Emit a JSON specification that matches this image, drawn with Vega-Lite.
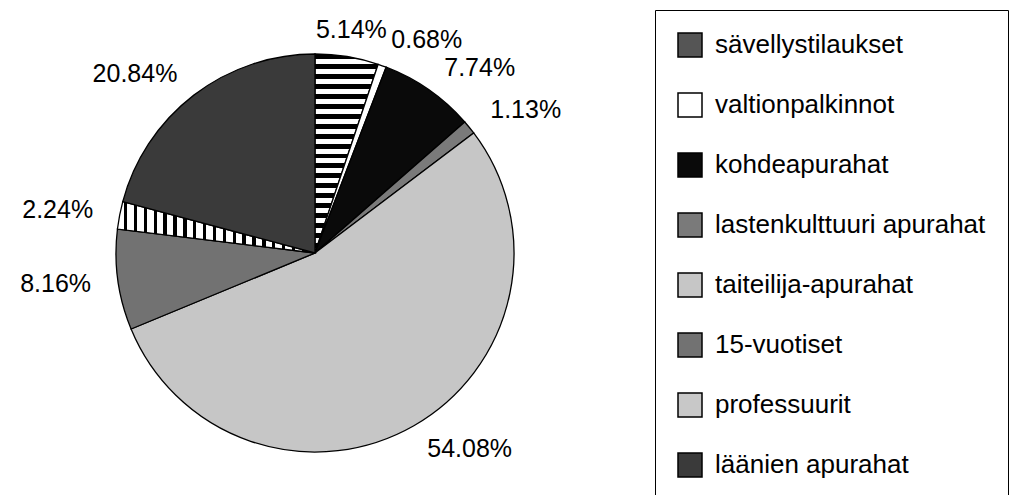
{
  "$schema": "https://vega.github.io/schema/vega-lite/v6.json",
  "width": 630,
  "height": 506,
  "padding": 0,
  "background": "white",
  "config": {"view": {"stroke": null}, "font": "Liberation Sans"},
  "data": {"values": [
    {"order": 1, "category": "sävellystilaukset", "pct": 5.14, "label": "5.14%"},
    {"order": 2, "category": "valtionpalkinnot", "pct": 0.68, "label": "0.68%"},
    {"order": 3, "category": "kohdeapurahat", "pct": 7.74, "label": "7.74%"},
    {"order": 4, "category": "lastenkulttuuri apurahat", "pct": 1.13, "label": "1.13%"},
    {"order": 5, "category": "taiteilija-apurahat", "pct": 54.08, "label": "54.08%"},
    {"order": 6, "category": "15-vuotiset", "pct": 8.16, "label": "8.16%"},
    {"order": 7, "category": "professuurit", "pct": 2.24, "label": "2.24%"},
    {"order": 8, "category": "läänien apurahat", "pct": 20.84, "label": "20.84%"}
  ]},
  "layer": [
    {
      "mark": {"type": "arc", "outerRadius": 199, "stroke": "black", "strokeWidth": 1.3},
      "encoding": {
        "theta": {"field": "pct", "type": "quantitative", "stack": true},
        "order": {"field": "order", "type": "quantitative"},
        "fill": {
          "field": "category",
          "type": "nominal",
          "scale": {
            "domain": ["sävellystilaukset", "valtionpalkinnot", "kohdeapurahat", "lastenkulttuuri apurahat", "taiteilija-apurahat", "15-vuotiset", "professuurit", "läänien apurahat"],
            "range": ["#555555", "#ffffff", "#0a0a0a", "#7a7a7a", "#c6c6c6", "#727272", "#c8c8c8", "#3a3a3a"]
          },
          "legend": {
            "title": null,
            "orient": "none",
            "legendX": 655,
            "legendY": 10,
            "symbolType": "square",
            "symbolSize": 576,
            "symbolStrokeColor": "black",
            "symbolStrokeWidth": 1.5,
            "symbolOpacity": 1,
            "labelFont": "Liberation Sans",
            "labelFontSize": 26,
            "labelColor": "black",
            "labelOffset": 12,
            "labelLimit": 500,
            "rowPadding": 30,
            "padding": 22,
            "strokeColor": "black",
            "fillColor": "white"
          },
          "condition": [
            {"test": "datum.category === 'sävellystilaukset'", "value": {
              "gradient": "linear", "x1": 0, "y1": 0, "x2": 0, "y2": 1,
              "stops": [
                {"offset": 0, "color": "#000"}, {"offset": 0.025, "color": "#000"}, {"offset": 0.025, "color": "#fff"}, {"offset": 0.05, "color": "#fff"},
                {"offset": 0.05, "color": "#000"}, {"offset": 0.075, "color": "#000"}, {"offset": 0.075, "color": "#fff"}, {"offset": 0.1, "color": "#fff"},
                {"offset": 0.1, "color": "#000"}, {"offset": 0.125, "color": "#000"}, {"offset": 0.125, "color": "#fff"}, {"offset": 0.15, "color": "#fff"},
                {"offset": 0.15, "color": "#000"}, {"offset": 0.175, "color": "#000"}, {"offset": 0.175, "color": "#fff"}, {"offset": 0.2, "color": "#fff"},
                {"offset": 0.2, "color": "#000"}, {"offset": 0.225, "color": "#000"}, {"offset": 0.225, "color": "#fff"}, {"offset": 0.25, "color": "#fff"},
                {"offset": 0.25, "color": "#000"}, {"offset": 0.275, "color": "#000"}, {"offset": 0.275, "color": "#fff"}, {"offset": 0.3, "color": "#fff"},
                {"offset": 0.3, "color": "#000"}, {"offset": 0.325, "color": "#000"}, {"offset": 0.325, "color": "#fff"}, {"offset": 0.35, "color": "#fff"},
                {"offset": 0.35, "color": "#000"}, {"offset": 0.375, "color": "#000"}, {"offset": 0.375, "color": "#fff"}, {"offset": 0.4, "color": "#fff"},
                {"offset": 0.4, "color": "#000"}, {"offset": 0.425, "color": "#000"}, {"offset": 0.425, "color": "#fff"}, {"offset": 0.45, "color": "#fff"},
                {"offset": 0.45, "color": "#000"}, {"offset": 0.475, "color": "#000"}, {"offset": 0.475, "color": "#fff"}, {"offset": 0.5, "color": "#fff"},
                {"offset": 0.5, "color": "#000"}, {"offset": 0.525, "color": "#000"}, {"offset": 0.525, "color": "#fff"}, {"offset": 0.55, "color": "#fff"},
                {"offset": 0.55, "color": "#000"}, {"offset": 0.575, "color": "#000"}, {"offset": 0.575, "color": "#fff"}, {"offset": 0.6, "color": "#fff"},
                {"offset": 0.6, "color": "#000"}, {"offset": 0.625, "color": "#000"}, {"offset": 0.625, "color": "#fff"}, {"offset": 0.65, "color": "#fff"},
                {"offset": 0.65, "color": "#000"}, {"offset": 0.675, "color": "#000"}, {"offset": 0.675, "color": "#fff"}, {"offset": 0.7, "color": "#fff"},
                {"offset": 0.7, "color": "#000"}, {"offset": 0.725, "color": "#000"}, {"offset": 0.725, "color": "#fff"}, {"offset": 0.75, "color": "#fff"},
                {"offset": 0.75, "color": "#000"}, {"offset": 0.775, "color": "#000"}, {"offset": 0.775, "color": "#fff"}, {"offset": 0.8, "color": "#fff"},
                {"offset": 0.8, "color": "#000"}, {"offset": 0.825, "color": "#000"}, {"offset": 0.825, "color": "#fff"}, {"offset": 0.85, "color": "#fff"},
                {"offset": 0.85, "color": "#000"}, {"offset": 0.875, "color": "#000"}, {"offset": 0.875, "color": "#fff"}, {"offset": 0.9, "color": "#fff"},
                {"offset": 0.9, "color": "#000"}, {"offset": 0.925, "color": "#000"}, {"offset": 0.925, "color": "#fff"}, {"offset": 0.95, "color": "#fff"},
                {"offset": 0.95, "color": "#000"}, {"offset": 0.975, "color": "#000"}, {"offset": 0.975, "color": "#fff"}, {"offset": 1, "color": "#fff"}
              ]
            }},
            {"test": "datum.category === 'professuurit'", "value": {
              "gradient": "linear", "x1": 0, "y1": 0, "x2": 1, "y2": 0,
              "stops": [
                {"offset": 0, "color": "#fff"}, {"offset": 0.0325, "color": "#fff"}, {"offset": 0.0325, "color": "#000"}, {"offset": 0.05, "color": "#000"},
                {"offset": 0.05, "color": "#fff"}, {"offset": 0.0825, "color": "#fff"}, {"offset": 0.0825, "color": "#000"}, {"offset": 0.1, "color": "#000"},
                {"offset": 0.1, "color": "#fff"}, {"offset": 0.1325, "color": "#fff"}, {"offset": 0.1325, "color": "#000"}, {"offset": 0.15, "color": "#000"},
                {"offset": 0.15, "color": "#fff"}, {"offset": 0.1825, "color": "#fff"}, {"offset": 0.1825, "color": "#000"}, {"offset": 0.2, "color": "#000"},
                {"offset": 0.2, "color": "#fff"}, {"offset": 0.2325, "color": "#fff"}, {"offset": 0.2325, "color": "#000"}, {"offset": 0.25, "color": "#000"},
                {"offset": 0.25, "color": "#fff"}, {"offset": 0.2825, "color": "#fff"}, {"offset": 0.2825, "color": "#000"}, {"offset": 0.3, "color": "#000"},
                {"offset": 0.3, "color": "#fff"}, {"offset": 0.3325, "color": "#fff"}, {"offset": 0.3325, "color": "#000"}, {"offset": 0.35, "color": "#000"},
                {"offset": 0.35, "color": "#fff"}, {"offset": 0.3825, "color": "#fff"}, {"offset": 0.3825, "color": "#000"}, {"offset": 0.4, "color": "#000"},
                {"offset": 0.4, "color": "#fff"}, {"offset": 0.4325, "color": "#fff"}, {"offset": 0.4325, "color": "#000"}, {"offset": 0.45, "color": "#000"},
                {"offset": 0.45, "color": "#fff"}, {"offset": 0.4825, "color": "#fff"}, {"offset": 0.4825, "color": "#000"}, {"offset": 0.5, "color": "#000"},
                {"offset": 0.5, "color": "#fff"}, {"offset": 0.5325, "color": "#fff"}, {"offset": 0.5325, "color": "#000"}, {"offset": 0.55, "color": "#000"},
                {"offset": 0.55, "color": "#fff"}, {"offset": 0.5825, "color": "#fff"}, {"offset": 0.5825, "color": "#000"}, {"offset": 0.6, "color": "#000"},
                {"offset": 0.6, "color": "#fff"}, {"offset": 0.6325, "color": "#fff"}, {"offset": 0.6325, "color": "#000"}, {"offset": 0.65, "color": "#000"},
                {"offset": 0.65, "color": "#fff"}, {"offset": 0.6825, "color": "#fff"}, {"offset": 0.6825, "color": "#000"}, {"offset": 0.7, "color": "#000"},
                {"offset": 0.7, "color": "#fff"}, {"offset": 0.7325, "color": "#fff"}, {"offset": 0.7325, "color": "#000"}, {"offset": 0.75, "color": "#000"},
                {"offset": 0.75, "color": "#fff"}, {"offset": 0.7825, "color": "#fff"}, {"offset": 0.7825, "color": "#000"}, {"offset": 0.8, "color": "#000"},
                {"offset": 0.8, "color": "#fff"}, {"offset": 0.8325, "color": "#fff"}, {"offset": 0.8325, "color": "#000"}, {"offset": 0.85, "color": "#000"},
                {"offset": 0.85, "color": "#fff"}, {"offset": 0.8825, "color": "#fff"}, {"offset": 0.8825, "color": "#000"}, {"offset": 0.9, "color": "#000"},
                {"offset": 0.9, "color": "#fff"}, {"offset": 0.9325, "color": "#fff"}, {"offset": 0.9325, "color": "#000"}, {"offset": 0.95, "color": "#000"},
                {"offset": 0.95, "color": "#fff"}, {"offset": 0.9825, "color": "#fff"}, {"offset": 0.9825, "color": "#000"}, {"offset": 1, "color": "#000"}
              ]
            }}
          ]
        }
      }
    },
    {
      "mark": {
        "type": "text",
        "font": "Liberation Sans",
        "fontSize": 25,
        "color": "black",
        "baseline": "middle",
        "align": {"expr": "abs(sin(PI*(datum.pct_start+datum.pct_end)/100.01)) < 0.25 ? 'center' : (sin(PI*(datum.pct_start+datum.pct_end)/100.01) > 0 ? 'left' : 'right')"}
      },
      "encoding": {
        "theta": {"field": "pct", "type": "quantitative", "stack": true},
        "order": {"field": "order", "type": "quantitative"},
        "radius": {"value": 226},
        "text": {"field": "label", "type": "nominal"}
      }
    }
  ]
}
